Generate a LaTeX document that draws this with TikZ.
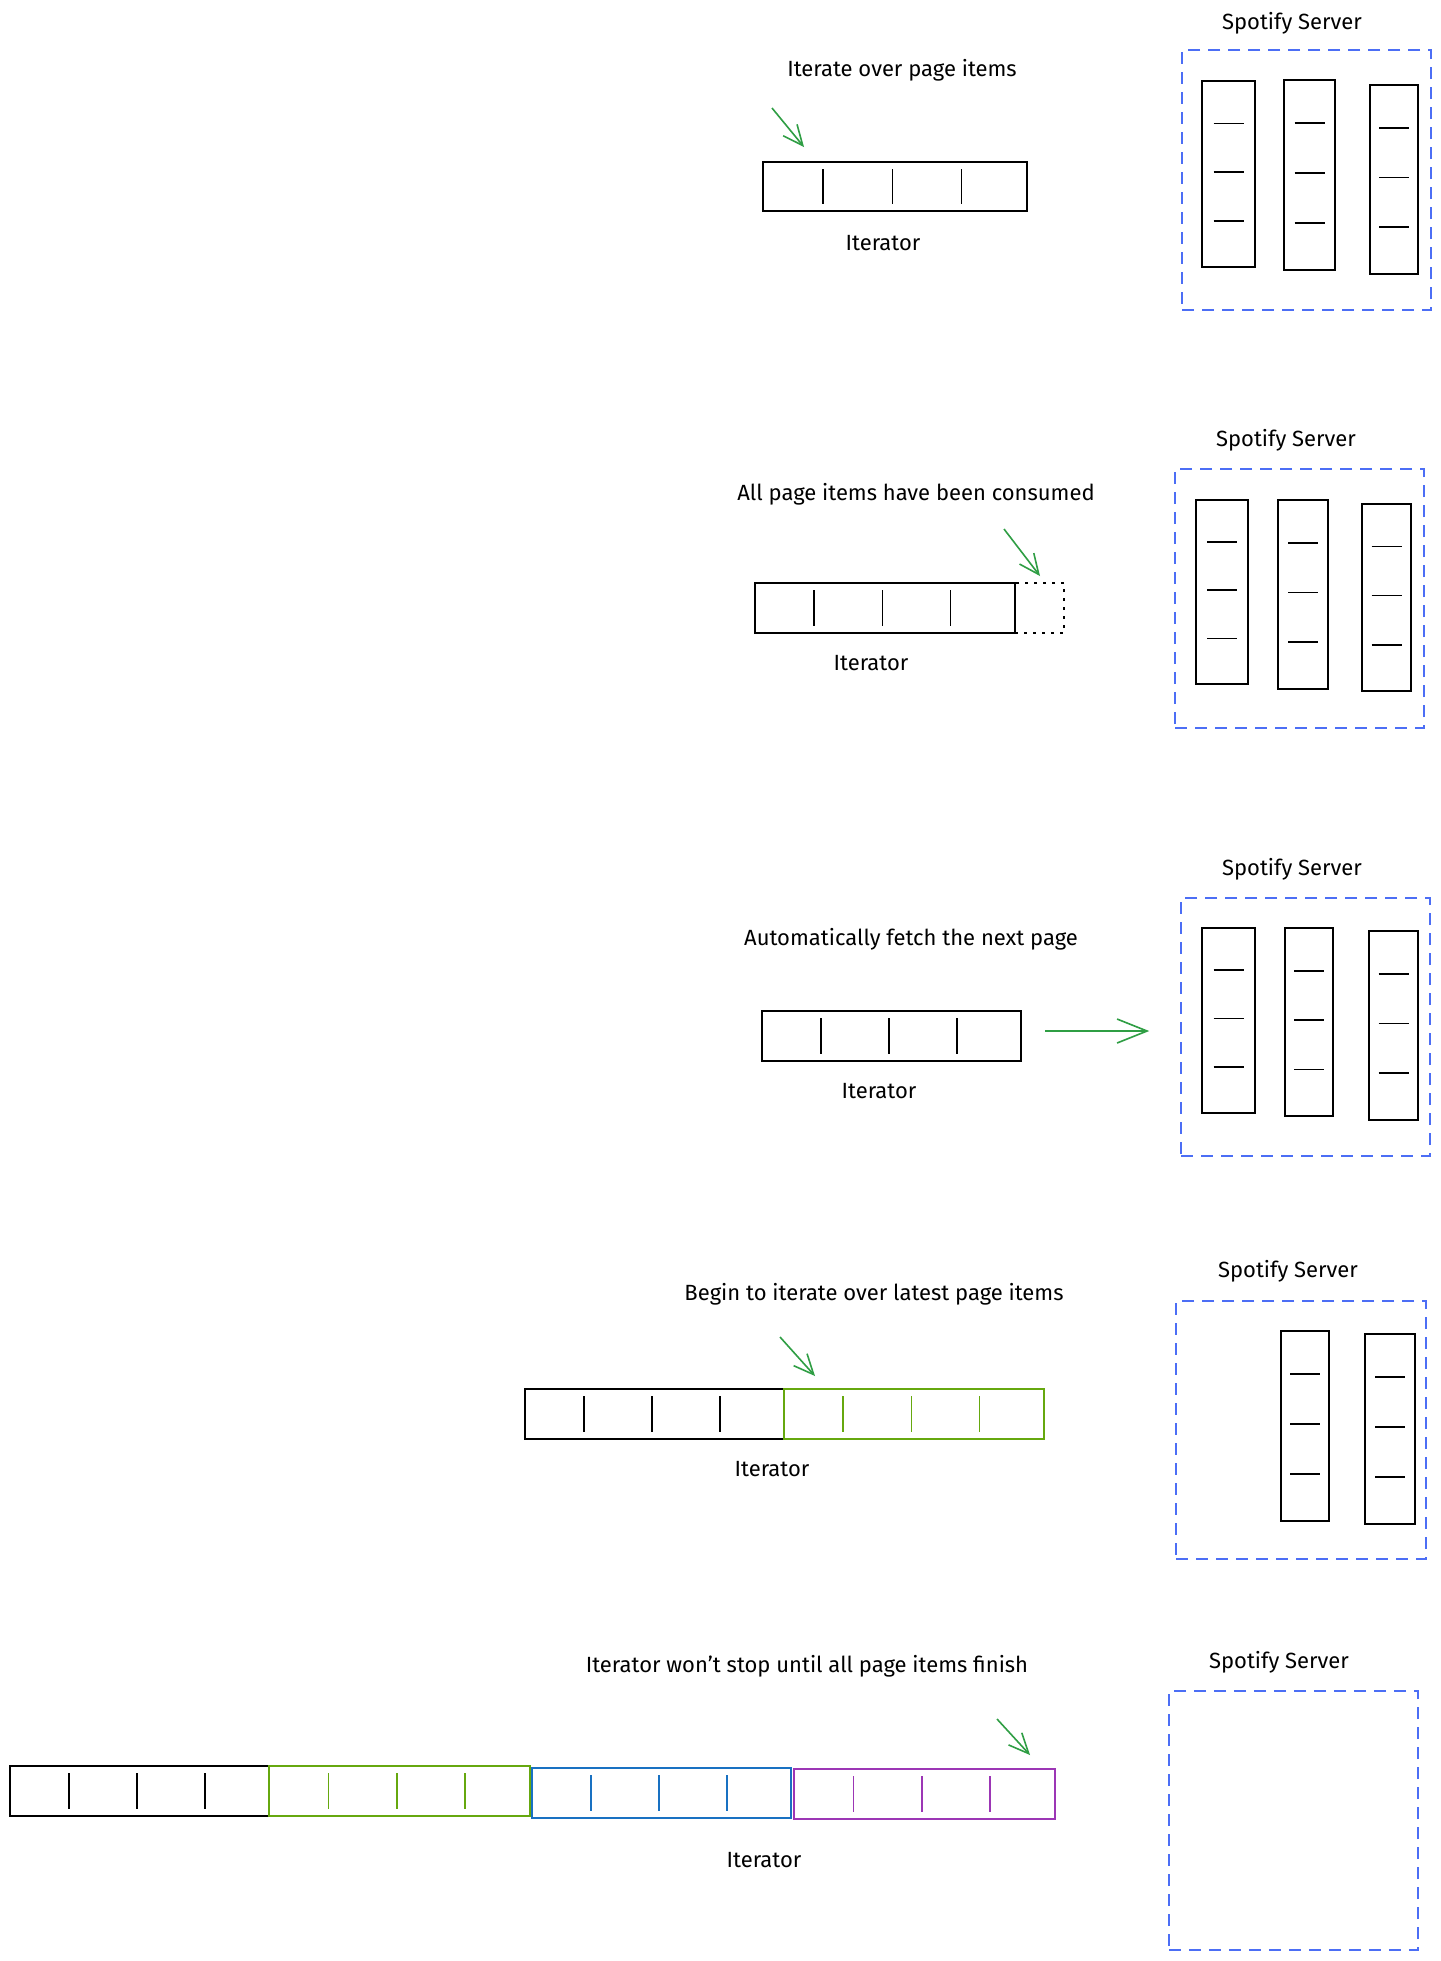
\documentclass[tikz,border=0pt]{standalone}
\usepackage{fontspec}
\setmainfont{Fira Sans}
\usetikzlibrary{fit,calc,arrows.meta}
\definecolor{srvblue}{HTML}{4C6EF5}
\definecolor{arrgreen}{HTML}{2F9E44}
\definecolor{pgreen}{HTML}{66A80F}
\definecolor{pblue}{HTML}{1971C2}
\definecolor{ppurple}{HTML}{9C36B5}
\tikzset{
  lbl/.style={font=\fontsize{11pt}{13pt}\selectfont, inner sep=0pt},
  server/.style={draw=srvblue, line width=0.8pt, dash pattern=on 6pt off 4pt, inner sep=0pt},
  colbox/.style={draw=black, line width=0.9pt, inner sep=0pt},
  barbox/.style={line width=1pt, inner sep=0pt},
  emptybox/.style={draw=black, line width=0.8pt, dash pattern=on 1.5pt off 3pt, inner sep=0pt},
  garrow/.style={draw=arrgreen, line width=0.8pt, -{Straight Barb[length=10pt,width=9pt]}},
  harrow/.style={draw=arrgreen, line width=0.8pt, -{Straight Barb[length=15pt,width=12pt]}}
}
\newcommand\hbarbox[6]{%
  \node[barbox, draw=#6, fit={(#2,#3)(#4,#5)}] (#1) {};
  \foreach \f in {0.23,0.49,0.75}
    \draw[#6, line width=0.8pt] ($(#1.north west)!\f!(#1.north east)+(0,8)$) -- ($(#1.south west)!\f!(#1.south east)+(0,-8)$);
}
\newcommand\vcolbox[5]{%
  \node[colbox, fit={(#2,#3)(#4,#5)}] (#1) {};
  \foreach \f in {0.23,0.49,0.75}
    \draw[line width=0.8pt] ($(#1.north)!\f!(#1.south)+(-15,0)$) -- ++(30,0);
}
\begin{document}
\begin{tikzpicture}[x=0.5pt,y=-0.5pt]
\useasboundingbox[fill=white] (0,0) rectangle (1441,1961);

% ---------- Panel 1 ----------
\node[lbl] (t1) at (902,70) {Iterate over page items};
\hbarbox{b1}{763}{162}{1027}{211}{black}
\node[lbl] (i1) at (883,243) {Iterator};
\node[lbl] (sp1) at (1292,23) {Spotify Server};
\node[server, fit={(1182,50)(1431,310)}] (s1) {};
\vcolbox{c11}{1202}{81}{1255}{267}
\vcolbox{c12}{1284}{80}{1335}{270}
\vcolbox{c13}{1370}{85}{1418}{274}
\coordinate (a1s) at (772,108);
\coordinate (a1e) at (804,147);
\draw[garrow] (a1s) -- (a1e);

% ---------- Panel 2 ----------
\node[lbl] (t2) at (916,494) {All page items have been consumed};
\hbarbox{b2}{755}{583}{1015}{633}{black}
\node[emptybox, fit={(1015,583)(1064,633)}] (e2) {};
\node[lbl] (i2) at (871,663) {Iterator};
\node[lbl] (sp2) at (1286,440) {Spotify Server};
\node[server, fit={(1175,469)(1424,728)}] (s2) {};
\vcolbox{c21}{1196}{500}{1248}{684}
\vcolbox{c22}{1278}{500}{1328}{689}
\vcolbox{c23}{1362}{504}{1411}{691}
\coordinate (a2s) at (1004,529);
\coordinate (a2e) at (1040,576);
\draw[garrow] (a2s) -- (a2e);

% ---------- Panel 3 ----------
\node[lbl] (t3) at (911,939) {Automatically fetch the next page};
\hbarbox{b3}{762}{1011}{1021}{1061}{black}
\node[lbl] (i3) at (879,1091) {Iterator};
\node[lbl] (sp3) at (1292,869) {Spotify Server};
\node[server, fit={(1181,898)(1430,1156)}] (s3) {};
\vcolbox{c31}{1202}{928}{1255}{1113}
\vcolbox{c32}{1285}{928}{1333}{1116}
\vcolbox{c33}{1369}{931}{1418}{1120}
\coordinate (a3s) at ($(b3.east)+(23,-5)$);
\draw[harrow, shorten >=15.5pt] (a3s) -- (a3s -| s3.west);

% ---------- Panel 4 ----------
\node[lbl] (t4) at (874,1294) {Begin to iterate over latest page items};
\hbarbox{b41}{525}{1389}{784}{1439}{black}
\hbarbox{b42}{784}{1389}{1044}{1439}{pgreen}
\node[lbl] (i4) at (772,1469) {Iterator};
\node[lbl] (sp4) at (1288,1271) {Spotify Server};
\node[server, fit={(1176,1301)(1426,1559)}] (s4) {};
\vcolbox{c41}{1281}{1331}{1329}{1521}
\vcolbox{c42}{1365}{1334}{1415}{1524}
\coordinate (a4s) at (780,1337);
\coordinate (a4e) at (815,1376);
\draw[garrow] (a4s) -- (a4e);

% ---------- Panel 5 ----------
\node[lbl] (t5) at (807,1666) {Iterator won't stop until all page items finish};
\hbarbox{b51}{10}{1766}{269}{1816}{black}
\hbarbox{b52}{269}{1766}{530}{1816}{pgreen}
\hbarbox{b53}{532}{1768}{791}{1818}{pblue}
\hbarbox{b54}{794}{1769}{1055}{1819}{ppurple}
\node[lbl] (i5) at (764,1860) {Iterator};
\node[lbl] (sp5) at (1279,1662) {Spotify Server};
\node[server, fit={(1169,1691)(1418,1950)}] (s5) {};
\coordinate (a5s) at (997,1719);
\coordinate (a5e) at (1030,1755);
\draw[garrow] (a5s) -- (a5e);
\end{tikzpicture}
\end{document}
